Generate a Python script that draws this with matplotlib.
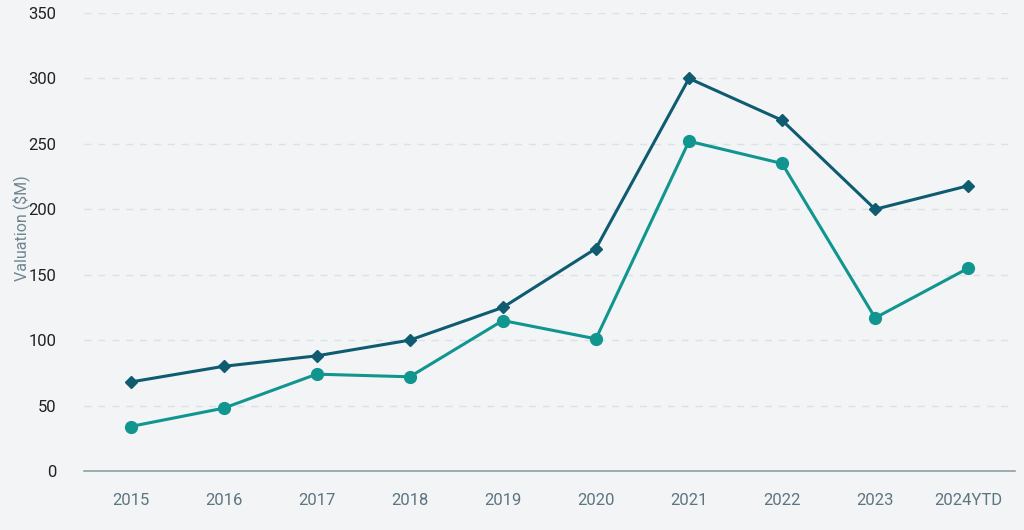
import matplotlib.pyplot as plt

years = ['2015', '2016', '2017', '2018', '2019', '2020', '2021', '2022', '2023', '2024YTD']
upper = [68, 80, 88, 100, 125, 170, 300, 268, 200, 218]
lower = [34, 48, 74, 72, 115, 101, 252, 235, 117, 155]

plt.rcParams['font.family'] = ['Roboto', 'DejaVu Sans']
bg = '#f2f4f6'

fig = plt.figure(figsize=(10.24, 5.3), dpi=100, facecolor=bg)
ax = fig.add_axes([0.082, 0.1113, 0.909, 0.8642], facecolor=bg)

x = range(len(years))
ax.plot(x, upper, color='#0f5b70', linewidth=2.2, marker='D', markersize=6, zorder=3)
ax.plot(x, lower, color='#11958f', linewidth=2.2, marker='o', markersize=8.5, zorder=3)

ax.set_xlim(-0.5, len(years) - 0.5)
ax.set_ylim(0, 350)
ax.set_yticks(range(0, 351, 50))
ax.set_xticks(list(x))
ax.set_xticklabels(years)
ax.grid(axis='y', linestyle=(0, (5, 5)), color='#dbe1e5', linewidth=1)
ax.set_axisbelow(True)
for s in ['top', 'right', 'left']:
    ax.spines[s].set_visible(False)
ax.spines['bottom'].set_color('#8f9ea5')
ax.spines['bottom'].set_linewidth(1.2)
ax.tick_params(axis='both', length=0)
ax.tick_params(axis='y', labelsize=12, labelcolor='#222222', pad=20)
ax.tick_params(axis='x', labelsize=12, labelcolor='#5d7580', pad=16)
ax.set_ylabel('Valuation ($M)', fontsize=11.5, color='#6f8690')
ax.yaxis.set_label_coords(-0.058, 0.53)

fig.savefig('out.png', dpi=100, facecolor=bg)
